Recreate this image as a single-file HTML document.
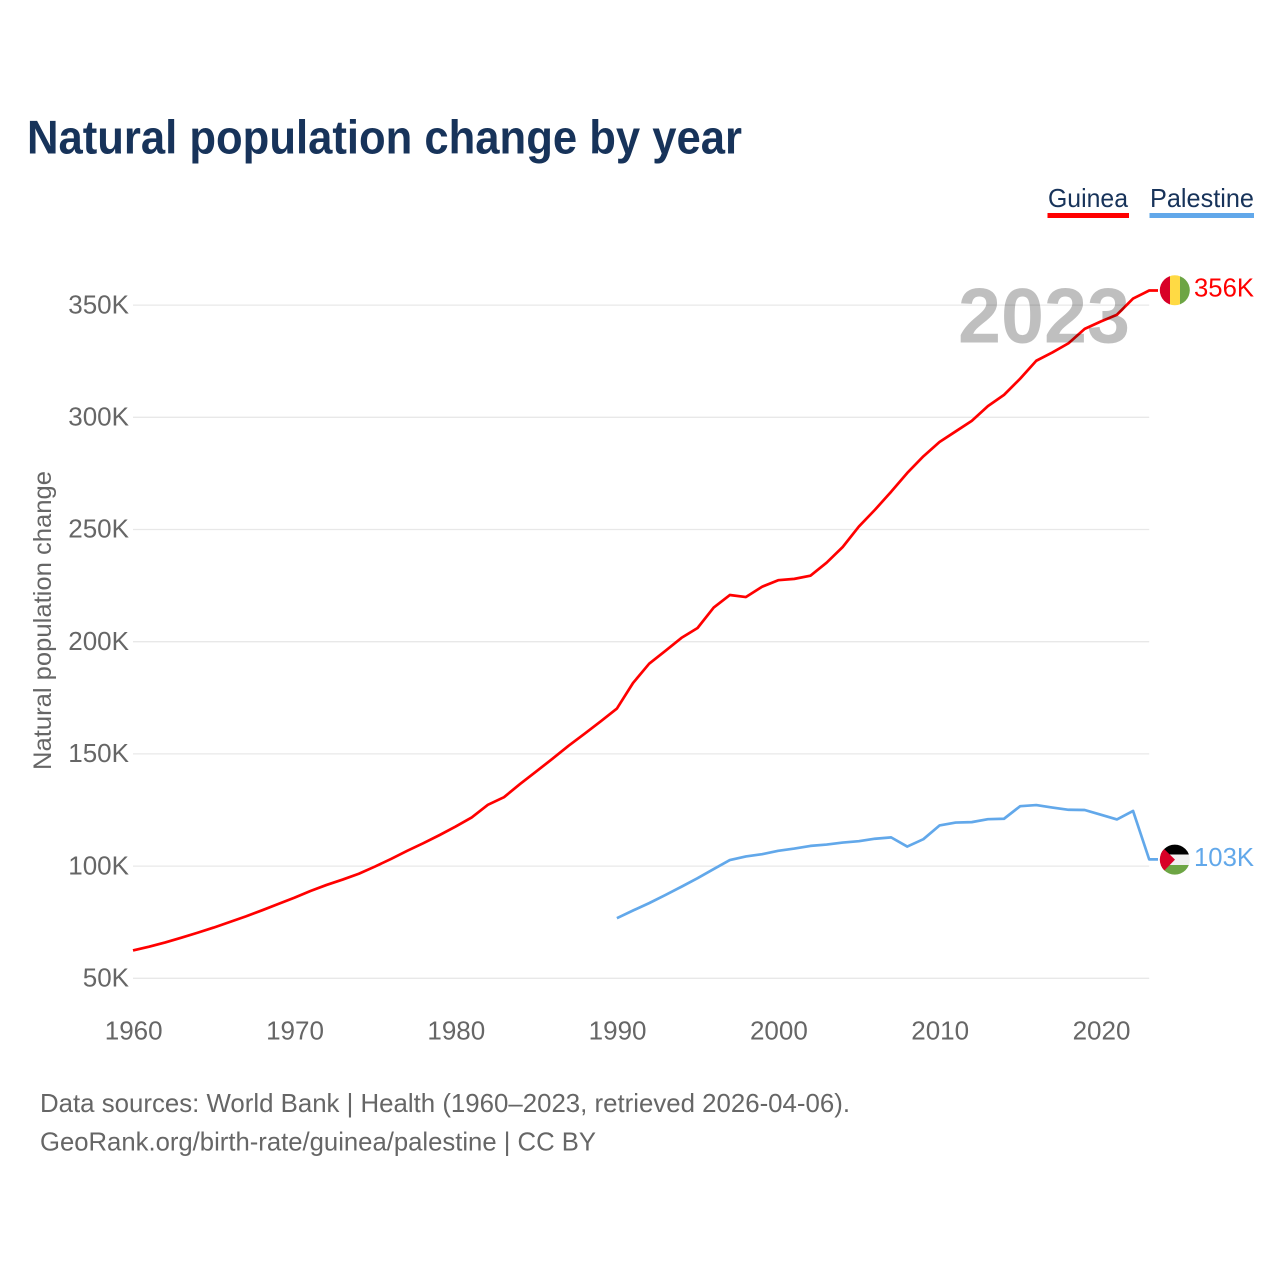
<!DOCTYPE html>
<html lang="en">
<head>
<meta charset="utf-8">
<title>Natural population change by year</title>
<style>
html,body{margin:0;padding:0;background:#fff;width:1280px;height:1280px;overflow:hidden}
svg{display:block;font-family:"Liberation Sans",sans-serif}
</style>
</head>
<body>
<svg id="chart" width="1280" height="1280" viewBox="0 0 1280 1280" xmlns="http://www.w3.org/2000/svg">
  <defs>
    <clipPath id="clip-guinea"><circle cx="1174.8" cy="290.3" r="15"/></clipPath>
    <clipPath id="clip-palestine"><circle cx="1174.8" cy="859.6" r="15"/></clipPath>
  </defs>
  <text x="27" y="153.5" font-size="47" font-weight="700" fill="#17335a" textLength="715" lengthAdjust="spacingAndGlyphs">Natural population change by year</text>

  <g>
    <text x="1048" y="207" font-size="26" fill="#17335a" textLength="80" lengthAdjust="spacingAndGlyphs">Guinea</text>
    <rect x="1047.5" y="213" width="81.5" height="5" fill="#ff0000"/>
  </g>
  <g>
    <text x="1150" y="207" font-size="26" fill="#17335a" textLength="104" lengthAdjust="spacingAndGlyphs">Palestine</text>
    <rect x="1149.5" y="213" width="104.5" height="5" fill="#62a8ea"/>
  </g>

  <g id="grid"></g>
  <g id="y-ticks"></g>
  <g id="x-ticks"></g>
  <text transform="translate(51,770) rotate(-90)" font-size="25" fill="#666666" textLength="299" lengthAdjust="spacingAndGlyphs">Natural population change</text>

  <g id="series"></g>

  <text x="958" y="342.7" font-size="78" font-weight="700" fill="#000000" fill-opacity="0.25" textLength="172" lengthAdjust="spacingAndGlyphs">2023</text>

  <g clip-path="url(#clip-guinea)">
    <rect x="1159" y="274" width="11" height="33" fill="#d80027"/>
    <rect x="1170" y="274" width="10" height="33" fill="#ffda44"/>
    <rect x="1180" y="274" width="11" height="33" fill="#6da544"/>
  </g>
  <g clip-path="url(#clip-palestine)">
    <rect x="1159" y="844" width="32" height="10.5" fill="#000000"/>
    <rect x="1159" y="854.5" width="32" height="10.5" fill="#f0f0f0"/>
    <rect x="1159" y="865" width="32" height="11" fill="#6da544"/>
    <polygon points="1159,844 1175,859.6 1159,876" fill="#d80027"/>
  </g>
  <text x="1194" y="296.5" font-size="26" fill="#ff0000" textLength="60" lengthAdjust="spacingAndGlyphs">356K</text>
  <text x="1194" y="866" font-size="26" fill="#62a8ea" textLength="60" lengthAdjust="spacingAndGlyphs">103K</text>

  <text x="40" y="1112" font-size="26" fill="#666666" textLength="810" lengthAdjust="spacingAndGlyphs">Data sources: World Bank | Health (1960–2023, retrieved 2026-04-06).</text>
  <text x="40" y="1150.5" font-size="26" fill="#666666" textLength="556" lengthAdjust="spacingAndGlyphs">GeoRank.org/birth-rate/guinea/palestine | CC BY</text>
</svg>
<script>
const guineaStartYear = 1960;
const guineaValues = [62.4,64.1,66,68.1,70.3,72.6,75.1,77.6,80.3,83.1,85.9,88.9,91.6,94,96.6,99.8,103.2,106.8,110.2,113.8,117.6,121.7,127.3,130.7,136.6,142.2,147.8,153.6,159,164.5,170.2,181.6,190.2,195.9,201.7,206.1,215.2,220.8,219.9,224.5,227.4,228,229.4,235.2,242.2,251.3,258.8,266.8,275.2,282.6,289,293.7,298.4,305,310,317.2,325.2,328.9,333,339.4,342.7,345.7,352.9,356.5];
const palestineStartYear = 1990;
const palestineValues = [76.8,80.2,83.5,87.1,90.8,94.6,98.7,102.7,104.3,105.3,106.8,107.8,109,109.6,110.5,111.1,112.2,112.8,108.7,112,118.1,119.4,119.6,120.9,121.1,126.7,127.2,126.1,125.1,125,122.9,120.8,124.6,103];
const yTickValues = [50,100,150,200,250,300,350];
const yTickLabels = ['50K','100K','150K','200K','250K','300K','350K'];
const xTickYears = [1960,1970,1980,1990,2000,2010,2020];

const SVG_NS = 'http://www.w3.org/2000/svg';
const xScale = function (year) { return 133 + (year - 1960) * 16.13; };
const yScale = function (value) { return 978.3 - (value - 50) * 2.244; };
const gridLayer = document.getElementById('grid');
const yLayer = document.getElementById('y-ticks');
const xLayer = document.getElementById('x-ticks');
const seriesLayer = document.getElementById('series');

yTickValues.forEach(function (value, i) {
  const line = document.createElementNS(SVG_NS, 'line');
  
  
  line.setAttribute('x1', xScale(1960));
  line.setAttribute('x2', xScale(2023));
  line.setAttribute('y1', yScale(value));
  line.setAttribute('y2', yScale(value));
  line.setAttribute('stroke', '#e8e8e8');
  line.setAttribute('stroke-width', '1.3');
  gridLayer.appendChild(line);

  const label = document.createElementNS(SVG_NS, 'text');
  
  
  label.setAttribute('x', 129);
  label.setAttribute('y', yScale(value) + 8.2);
  label.setAttribute('text-anchor', 'end');
  label.setAttribute('font-size', '26');
  label.setAttribute('fill', '#666666');
  label.textContent = yTickLabels[i];
  yLayer.appendChild(label);
});

xTickYears.forEach(function (year) {
  const label = document.createElementNS(SVG_NS, 'text');
  
  
  label.setAttribute('x', xScale(year) + 0.7);
  label.setAttribute('y', 1039.5);
  label.setAttribute('text-anchor', 'middle');
  label.setAttribute('font-size', '26');
  label.setAttribute('fill', '#666666');
  label.textContent = String(year);
  xLayer.appendChild(label);
});

function pathFor(values, startYear) {
  let d = '';
  values.forEach(function (value, i) {
    d += (i ? 'L' : 'M') + xScale(startYear + i).toFixed(2) + ' ' + yScale(value).toFixed(2);
  });
  d += 'L1158 ' + yScale(values[values.length - 1]).toFixed(2);
  return d;
}

const guineaLine = document.createElementNS(SVG_NS, 'path');


guineaLine.setAttribute('d', pathFor(guineaValues, guineaStartYear));
guineaLine.setAttribute('fill', 'none');
guineaLine.setAttribute('stroke', '#ff0000');
guineaLine.setAttribute('stroke-width', '2.7');
guineaLine.setAttribute('stroke-linejoin', 'round');
seriesLayer.appendChild(guineaLine);

const palestineLine = document.createElementNS(SVG_NS, 'path');


palestineLine.setAttribute('d', pathFor(palestineValues, palestineStartYear));
palestineLine.setAttribute('fill', 'none');
palestineLine.setAttribute('stroke', '#62a8ea');
palestineLine.setAttribute('stroke-width', '2.7');
palestineLine.setAttribute('stroke-linejoin', 'round');
seriesLayer.appendChild(palestineLine);
</script>
</body>
</html>
